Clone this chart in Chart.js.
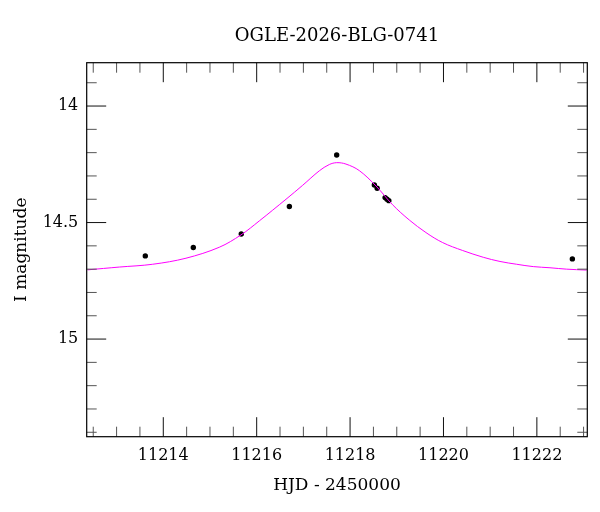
<!DOCTYPE html>
<html>
<head>
<meta charset="utf-8">
<script src="https://cdn.jsdelivr.net/npm/chart.js@4/dist/chart.umd.min.js"></script>
<style>
  html, body { margin: 0; padding: 0; background: #fff; }
  #wrap { width: 600px; height: 512px; }
</style>
</head>
<body>
<div id="wrap"><canvas id="c" width="600" height="512"></canvas></div>
<script>
// Observed photometry (HJD - 2450000, I magnitude)
const obsHJD = [11213.615, 11214.643, 11215.670, 11216.700, 11217.713, 11218.52, 11218.58, 11218.75, 11218.79, 11218.83, 11222.76];
const obsMag = [14.643, 14.607, 14.549, 14.431, 14.210, 14.339, 14.353, 14.393, 14.400, 14.406, 14.656];

// Model curve
const modelHJD = [11212.38, 11213.058, 11213.773, 11214.486, 11215.199, 11215.664, 11216.056, 11216.628, 11216.985, 11217.341, 11217.555, 11217.713, 11217.912, 11218.197, 11218.555, 11218.912, 11219.268, 11219.625, 11219.983, 11220.411, 11220.852, 11221.21, 11221.567, 11221.923, 11222.281, 11222.638, 11223.066];
const modelMag = [14.703, 14.691, 14.679, 14.653, 14.606, 14.553, 14.493, 14.400, 14.340, 14.278, 14.251, 14.243, 14.249, 14.277, 14.343, 14.424, 14.489, 14.543, 14.586, 14.620, 14.649, 14.667, 14.679, 14.689, 14.694, 14.700, 14.704];

// Axis ticks
const xMajorTicks = [11214, 11216, 11218, 11220, 11222];
const xMinorTicks = [11212.5, 11213, 11213.5, 11214.5, 11215, 11215.5, 11216.5, 11217, 11217.5, 11218.5, 11219, 11219.5, 11220.5, 11221, 11221.5, 11222.5, 11223];
const yMajorTicks = [14, 14.5, 15];
const yMajorLabels = ['14', '14.5', '15'];
const yMinorTicks = [13.9, 14.1, 14.2, 14.3, 14.4, 14.6, 14.7, 14.8, 14.9, 15.1, 15.2, 15.3, 15.4];

const titleText = 'OGLE-2026-BLG-0741';
const xTitle = 'HJD - 2450000';
const yTitle = 'I magnitude';

const FONT = "'DejaVu Serif', serif";

const frameTicks = {
  id: 'frameTicks',
  afterDatasetsDraw(chart) {
    const {ctx, chartArea: a, scales: {x, y}} = chart;
    ctx.save();
    const tick = (x1, y1, x2, y2, col) => {
      ctx.strokeStyle = col;
      ctx.beginPath(); ctx.moveTo(x1, y1); ctx.lineTo(x2, y2); ctx.stroke();
    };
    ctx.lineWidth = 1;
    const majL = 19.5, minL = 10;
    xMajorTicks.forEach(v => { const p = x.getPixelForValue(v);
      tick(p, a.bottom, p, a.bottom - majL, '#111'); tick(p, a.top, p, a.top + majL, '#111'); });
    xMinorTicks.forEach(v => { const p = x.getPixelForValue(v);
      tick(p, a.bottom, p, a.bottom - minL, '#555'); tick(p, a.top, p, a.top + minL, '#555'); });
    yMajorTicks.forEach(v => { const p = y.getPixelForValue(v);
      tick(a.left, p, a.left + majL, p, '#111'); tick(a.right, p, a.right - majL, p, '#111'); });
    yMinorTicks.forEach(v => { const p = y.getPixelForValue(v);
      tick(a.left, p, a.left + minL, p, '#555'); tick(a.right, p, a.right - minL, p, '#555'); });
    ctx.strokeStyle = '#000';
    ctx.lineWidth = 1.2;
    ctx.strokeRect(a.left, a.top, a.right - a.left, a.bottom - a.top);
    ctx.restore();
  }
};

new Chart(document.getElementById('c'), {
  type: 'scatter',
  data: {
    datasets: [
      {
        type: 'line',
        data: modelHJD.map((v, i) => ({x: v, y: modelMag[i]})),
        borderColor: '#ff00ff',
        borderWidth: 1,
        pointRadius: 0,
        fill: false,
        tension: 0.35,
        order: 0
      },
      {
        data: obsHJD.map((v, i) => ({x: v, y: obsMag[i]})),
        backgroundColor: '#000',
        borderColor: '#000',
        borderWidth: 0,
        pointRadius: 2.7,
        order: 1
      }
    ]
  },
  options: {
    responsive: false,
    animation: false,
    devicePixelRatio: 1,
    layout: { padding: { left: 0, right: 12.7, top: 0, bottom: 0 } },
    plugins: {
      legend: { display: false },
      tooltip: { enabled: false },
      title: {
        display: true,
        text: titleText,
        fullSize: false,
        color: '#000',
        font: { family: FONT, size: 18, weight: 'normal', lineHeight: 1.2 },
        padding: { top: 26, bottom: 15.1 }
      }
    },
    scales: {
      x: {
        type: 'linear',
        min: 11212.36,
        max: 11223.08,
        afterBuildTicks: s => { s.ticks = xMajorTicks.map(v => ({value: v})); },
        afterFit: s => { s.height = 75.3; },
        grid: { display: false, drawTicks: false },
        border: { display: false },
        ticks: {
          color: '#000',
          padding: 10,
          maxRotation: 0,
          autoSkip: false,
          font: { family: FONT, size: 16 },
          callback: v => String(v)
        },
        title: {
          display: true,
          text: xTitle,
          color: '#000',
          font: { family: FONT, size: 17, lineHeight: 1.2 },
          padding: { top: 0, bottom: 16.5 }
        }
      },
      y: {
        type: 'linear',
        reverse: true,
        min: 13.814,
        max: 15.419,
        afterBuildTicks: s => { s.ticks = yMajorTicks.map(v => ({value: v})); },
        afterFit: s => { s.width = 86.7; },
        grid: { display: false, drawTicks: false },
        border: { display: false },
        ticks: {
          color: '#000',
          padding: 8.4,
          autoSkip: false,
          font: { family: FONT, size: 16 },
          callback: v => { const i = yMajorTicks.indexOf(v); return i >= 0 ? yMajorLabels[i] : ''; }
        },
        title: {
          display: true,
          text: yTitle,
          color: '#000',
          font: { family: FONT, size: 17, lineHeight: 1.2 },
          padding: { top: 11.8, bottom: 0 }
        }
      }
    }
  },
  plugins: [frameTicks]
});
</script>
</body>
</html>
